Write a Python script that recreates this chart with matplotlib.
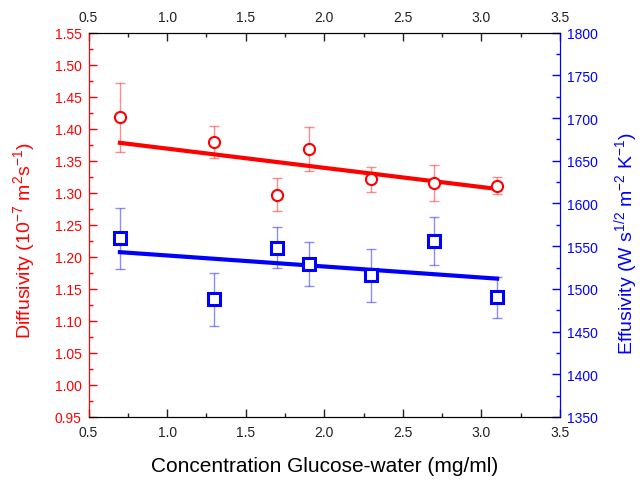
import numpy as np
import matplotlib
matplotlib.use("Agg")
import matplotlib.pyplot as plt
from matplotlib.ticker import MultipleLocator, AutoMinorLocator

plt.rcParams['font.family'] = ['Liberation Sans', 'DejaVu Sans']
plt.rcParams['mathtext.default'] = 'regular'

# concentration (mg/ml)
conc = [0.7, 1.3, 1.7, 1.9, 2.3, 2.7, 3.1]

# diffusivity (1e-7 m2/s) and its error
diff = [1.418, 1.379, 1.297, 1.368, 1.321, 1.315, 1.311]
diff_err = [0.054, 0.025, 0.026, 0.034, 0.020, 0.028, 0.013]

# effusivity and its error
eff = [1559, 1488, 1548, 1529, 1516, 1556, 1490]
eff_err = [36, 31, 24, 26, 31, 28, 24]

# fit lines
fit_x = [0.7, 3.1]
diff_fit = [1.378, 1.306]
eff_fit = [1543, 1512]

fig = plt.figure(figsize=(6.4, 4.81), dpi=100)
ax = fig.add_axes([0.1383, 0.131, 0.7367, 0.799])
ax2 = ax.twinx()

red = '#ff0000'
blue = '#0000ff'

ax.errorbar(conc, diff, yerr=diff_err, fmt='none', ecolor=(1, 0, 0, 0.45),
            elinewidth=1, capsize=3.5, capthick=1, zorder=2)
ax.plot(fit_x, diff_fit, color=red, lw=3, zorder=3)
ax.plot(conc, diff, 'o', ms=8, mfc='white', mec=red, mew=1.5, zorder=4)

ax2.errorbar(conc, eff, yerr=eff_err, fmt='none', ecolor=(0, 0, 1, 0.45),
             elinewidth=1, capsize=3.5, capthick=1, zorder=2)
ax2.plot(fit_x, eff_fit, color=blue, lw=3, zorder=3)
ax2.plot(conc, eff, 's', ms=8.5, mfc='white', mec=blue, mew=2.2, zorder=4)

ax.set_xlim(0.5, 3.5)
ax.set_ylim(0.95, 1.55)
ax2.set_ylim(1350, 1800)

ax.xaxis.set_major_locator(MultipleLocator(0.5))
ax.xaxis.set_minor_locator(AutoMinorLocator(2))
ax.yaxis.set_major_locator(MultipleLocator(0.05))
ax.yaxis.set_minor_locator(AutoMinorLocator(2))
ax2.yaxis.set_major_locator(MultipleLocator(50))
ax2.yaxis.set_minor_locator(AutoMinorLocator(2))
ax.xaxis.set_major_formatter(plt.FormatStrFormatter('%.1f'))
ax.yaxis.set_major_formatter(plt.FormatStrFormatter('%.2f'))

ax.tick_params(axis='x', which='both', direction='in', top=True, labeltop=True,
               labelsize=10, colors='#222222', pad=6)
ax.tick_params(axis='x', which='major', length=6, width=1)
ax.tick_params(axis='x', which='minor', length=3, width=1)
ax.tick_params(axis='y', which='both', direction='in', colors=red, labelsize=10, pad=5)
ax.tick_params(axis='y', which='major', length=6, width=1)
ax.tick_params(axis='y', which='minor', length=3, width=1)
ax2.tick_params(axis='y', which='both', direction='in', colors=blue, labelsize=10, pad=5)
ax2.tick_params(axis='y', which='major', length=6, width=1)
ax2.tick_params(axis='y', which='minor', length=3, width=1)

ax2.spines['left'].set_color(red)
ax2.spines['right'].set_color(blue)
ax2.spines['top'].set_color('black')
ax2.spines['bottom'].set_color('black')
ax.spines['left'].set_color(red)
ax.spines['right'].set_color(blue)

ax.set_xlabel('Concentration Glucose-water (mg/ml)', fontsize=15, labelpad=12)
ax.set_ylabel('Diffusivity (10$^{-7}$ m$^{2}$s$^{-1}$)', fontsize=14, color=red)
ax2.set_ylabel('Effusivity (W s$^{1/2}$ m$^{-2}$ K$^{-1}$)', fontsize=14, color=blue)
ax.yaxis.set_label_coords(-0.109, 0.46)
ax2.yaxis.set_label_coords(1.110, 0.455)

fig.savefig('out.png', dpi=100)
